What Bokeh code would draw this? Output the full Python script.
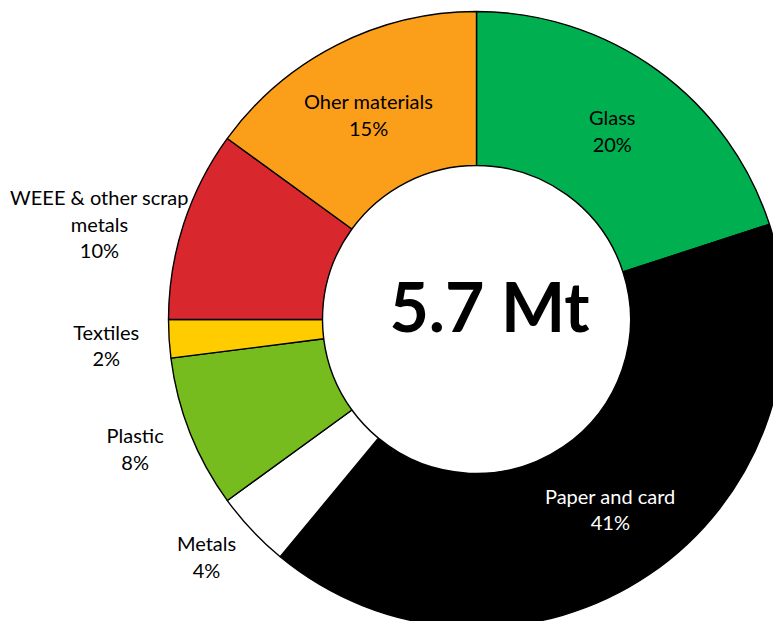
import math
from bokeh.plotting import figure
from bokeh.models import Range1d, ColumnDataSource
from bokeh.core.properties import value
from bokeh.embed import file_html
from bokeh.resources import INLINE

# ---- data ----
categories = ["Glass", "Paper and card", "Metals", "Plastic", "Textiles",
              "WEEE & other scrap metals", "Oher materials"]
label_lines = ["Glass", "Paper and card", "Metals", "Plastic", "Textiles",
               "WEEE & other scrap\nmetals", "Oher materials"]
shares = [20, 41, 4, 8, 2, 10, 15]
colors = ["#00B050", "#000000", "#FFFFFF", "#77BC1F", "#FFCC00", "#D9272E", "#FB9E1A"]
text_colors = ["black", "white", "black", "black", "black", "black", "black"]
total_label = "5.7 Mt"

# ---- layout ----
W, H = 773, 621
CX, CY = 476, 302          # donut centre in data units (1 unit = 1 px)
R_OUT, R_IN = 308, 154
LABEL_R = [231, 231, 358, 365, 370, 388, 231]
LABEL_DX = [0, 4, -9, -2, -1, -8, -3]     # pixel nudges
LABEL_DY = [2, 1.5, 8, 5.5, -2.5, -24, -1]
FONT = "Lato"

p = figure(width=W, height=H, output_backend="svg", toolbar_location=None,
           x_range=Range1d(0, W), y_range=Range1d(0, H),
           x_axis_location=None, y_axis_location=None, min_border=0,
           background_fill_color="white", border_fill_color="white")
p.grid.visible = False
p.outline_line_color = None

total = sum(shares)
starts, ends, mids = [], [], []
cum = 0
for s in shares:
    a0 = math.pi / 2 - 2 * math.pi * cum / total
    cum += s
    a1 = math.pi / 2 - 2 * math.pi * cum / total
    starts.append(a0)
    ends.append(a1)
    mids.append((a0 + a1) / 2)

src = ColumnDataSource(dict(start=starts, end=ends, color=colors))
p.annular_wedge(x=CX, y=CY, inner_radius=R_IN, outer_radius=R_OUT,
                start_angle="start", end_angle="end", direction="clock",
                fill_color="color", line_color="black", line_width=1.4, source=src)

lx = [CX + r * math.cos(m) + dx for r, m, dx in zip(LABEL_R, mids, LABEL_DX)]
ly = [CY + r * math.sin(m) + dy for r, m, dy in zip(LABEL_R, mids, LABEL_DY)]
texts = [f"{t}\n{s}%" for t, s in zip(label_lines, shares)]
lsrc = ColumnDataSource(dict(x=lx, y=ly, text=texts, color=text_colors))
p.text(x="x", y="y", text="text", text_color="color", source=lsrc,
       text_align="center", text_baseline="middle", text_font=value(FONT),
       text_font_size="20px", text_line_height=1.1)

p.text(x=[CX + 13], y=[CY + 14], text=[total_label], text_align="center",
       text_baseline="middle", text_font=value(FONT), text_font_style="bold",
       text_font_size="68px", text_color="black")

open("out.html", "w").write(file_html(p, INLINE))
